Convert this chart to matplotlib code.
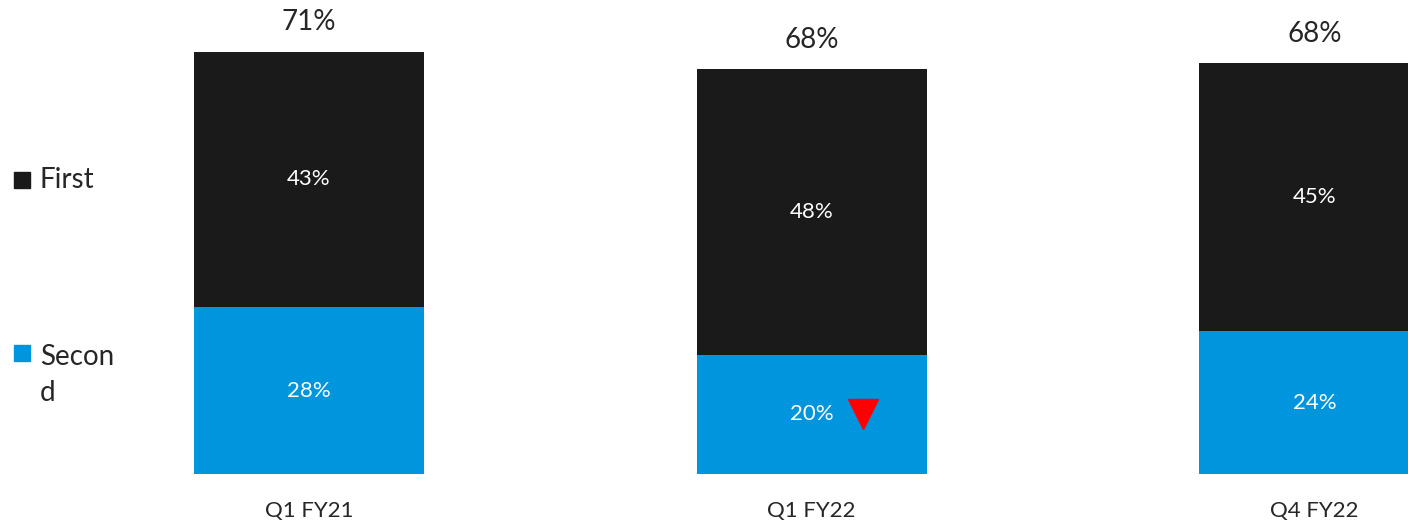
import matplotlib.pyplot as plt
import matplotlib.transforms as mtransforms
import numpy as np

plt.rcParams['font.family'] = ['Lato', 'DejaVu Sans']

categories = ["Q1 FY21", "Q1 FY22", "Q4 FY22"]
first = [43, 48, 45]
second = [28, 20, 24]
totals = ["71%", "68%", "68%"]
series_names = ["First", "Second"]

color_first = "#1a1a1a"
color_second = "#0095dd"
text_dark = "#262626"

fig = plt.figure(figsize=(14.08, 5.25), dpi=100)
ax = fig.add_axes([0, 1 - 474 / 525, 1, 474 / 525])

x = np.arange(len(categories))
width = 0.4575
ax.bar(x, second, width, color=color_second)
ax.bar(x, first, width, bottom=second, color=color_first)

ax.set_xlim(-0.6146, 2.186)
ax.set_ylim(0, 79.66)
ax.axis("off")

for i in range(len(categories)):
    ax.text(x[i], second[i] / 2, f"{second[i]}%", ha="center", va="center",
            color="white", fontsize=16)
    ax.text(x[i], second[i] + first[i] / 2, f"{first[i]}%", ha="center",
            va="center", color="white", fontsize=16)
    ax.annotate(totals[i], (x[i], second[i] + first[i]), xytext=(0, 21),
                textcoords="offset points", ha="center", va="center",
                color=text_dark, fontsize=20)
    ax.annotate(categories[i], (x[i], 0), xytext=(0, -27),
                textcoords="offset points", ha="center", va="center",
                color=text_dark, fontsize=16)

# red down arrow next to Q1 FY22 second label
off = mtransforms.ScaledTranslation(51 / 100, 0, fig.dpi_scale_trans)
ax.plot([x[1]], [second[1] / 2], marker="v", markersize=22, color="#ff0000",
        linestyle="none", transform=ax.transData + off)

# legend on the left
fig.patches.append(plt.Rectangle((14 / 1408, 1 - 188 / 525), 16 / 1408, 16 / 525,
                                 transform=fig.transFigure, color=color_first))
fig.text(40 / 1408, 1 - 180 / 525, series_names[0], ha="left", va="center",
         color=text_dark, fontsize=20)
fig.patches.append(plt.Rectangle((14 / 1408, 1 - 361 / 525), 16 / 1408, 16 / 525,
                                 transform=fig.transFigure, color=color_second))
fig.text(40 / 1408, 1 - 375 / 525, "Secon\nd", ha="left", va="center",
         color=text_dark, fontsize=20, linespacing=1.5)

fig.savefig("out.png", dpi=100)
